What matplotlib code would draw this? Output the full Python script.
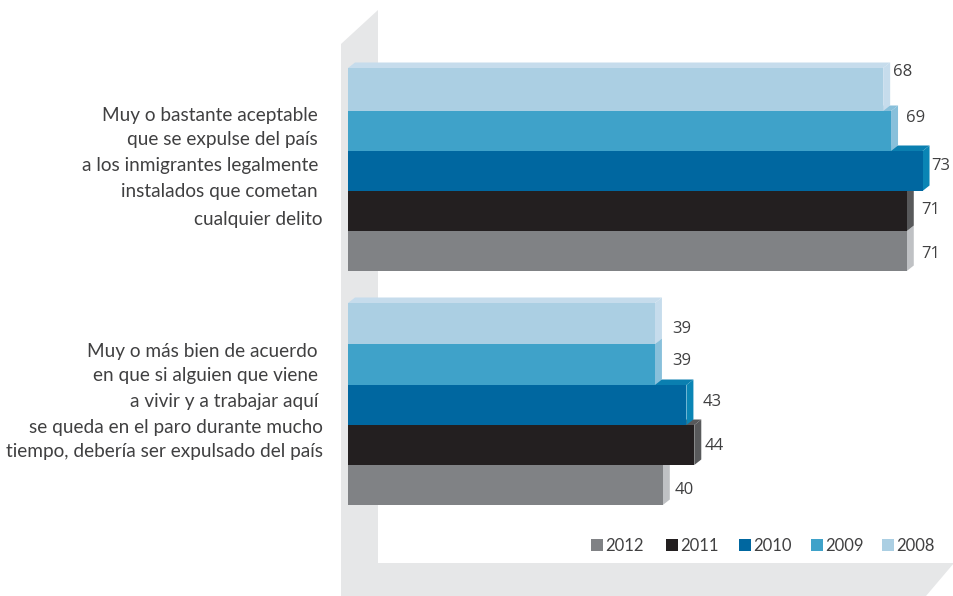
import matplotlib
matplotlib.use('Agg')
from matplotlib import pyplot as plt
from matplotlib.patches import Polygon, Rectangle

W, H = 954, 596

years = ['2012', '2011', '2010', '2009', '2008']
group_1 = [71, 71, 73, 69, 68]
group_2 = [40, 44, 43, 39, 39]

labels_1 = ['Muy o bastante aceptable', 'que se expulse del país', 'a los inmigrantes legalmente',
            'instalados que cometan', 'cualquier delito']
labels_2 = ['Muy o más bien de acuerdo', 'en que si alguien que viene', 'a vivir y a trabajar aquí',
            'se queda en el paro durante mucho', 'tiempo, debería ser expulsado del país']

colors = ['#808285', '#231f20', '#0067a0', '#3fa2c9', '#abcfe3']
side_colors = ['#bfc1c4', '#58595b', '#0a85b5', '#88c0db', '#c6dcec']
top_colors = ['#bfc1c4', '#58595b', '#0a7fb0', '#88c0db', '#c6dcec']

# bar tops in pixels, lowest bar first
tops_1 = [231, 191, 151, 111, 68]
bottoms_1 = [271, 231, 191, 151, 111]
tops_2 = [465, 425, 385, 344, 303]
bottoms_2 = [505, 465, 425, 385, 344]

# value label positions in pixels
pos_1 = [(921, 254), (921, 210), (931, 166), (906, 118), (893, 72)]
pos_2 = [(675, 490), (705, 446), (703, 402), (672, 361), (672, 329)]

PX = 7.87  # pixels per unit
DX = 7 / PX
DY = 5.5

fig = plt.figure(figsize=(W / 100, H / 100), dpi=100)
ax = fig.add_axes([348 / W, 0, (W - 348) / W, 1])
ax.set_xlim(0, (W - 348) / PX)
ax.set_ylim(H, 0)
ax.axis('off')


def fx(x):
    return x / W


def fy(y):
    return 1 - y / H


# grey wall and floor
wall = [(341, 44), (378, 10), (378, 563), (954, 563), (926, 596), (341, 596)]
fig.add_artist(Polygon([(fx(x), fy(y)) for x, y in wall], closed=True, color='#e6e7e8', lw=0,
                       transform=fig.transFigure, zorder=-1))


def draw_group(values, tops, bottoms, positions):
    for i, v in enumerate(values):
        t, b = tops[i], bottoms[i]
        ax.add_patch(Polygon([(0, t), (DX, t - DY), (v + DX, t - DY), (v, t)], closed=True,
                             color=top_colors[i], lw=0, zorder=2 + i))
        ax.add_patch(Polygon([(v, t), (v + DX, t - DY), (v + DX, b - DY), (v, b)], closed=True,
                             color=side_colors[i], lw=0, zorder=2 + i))
        ax.barh((t + b) / 2, v, height=b - t, color=colors[i], lw=0, zorder=2 + i)
        x, y = positions[i]
        fig.text(fx(x), fy(y), str(v), family='Open Sans', fontsize=12, color='#404041',
                 ha='left', va='center')


draw_group(group_1, tops_1, bottoms_1, pos_1)
draw_group(group_2, tops_2, bottoms_2, pos_2)

# category text, line by line because right edges are uneven
for text, y, r in zip(labels_1, [115, 140, 166, 192, 219], [318, 318, 318, 318, 323]):
    fig.text(fx(r), fy(y), text, family='Lato', fontsize=13.7, color='#404041', ha='right', va='center')
for text, y, r in zip(labels_2, [351, 376, 402, 428, 451], [318, 318, 318, 323, 323]):
    fig.text(fx(r), fy(y), text, family='Lato', fontsize=13.7, color='#404041', ha='right', va='center')

# legend
legend_x = [591, 666, 739, 811, 882]
for i, year in enumerate(years):
    fig.add_artist(Rectangle((fx(legend_x[i]), fy(551)), 12 / W, 12 / H, color=colors[i], lw=0,
                             transform=fig.transFigure))
    fig.text(fx(legend_x[i] + 14), fy(546), year, family='Lato', fontsize=12, color='#404041',
             ha='left', va='center')

fig.savefig('out.png', dpi=100)
